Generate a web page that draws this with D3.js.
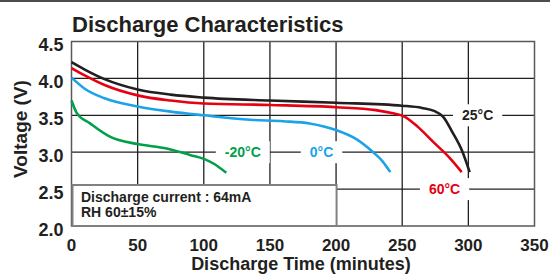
<!DOCTYPE html>
<html>
<head>
<meta charset="utf-8">
<script src="https://cdn.jsdelivr.net/npm/d3@7"></script>
<style>
  body { margin: 0; background: #fff; }
  text { font-family: "Liberation Sans", Arial, sans-serif; font-weight: bold; }
</style>
</head>
<body>
<div id="chart"></div>
<script>
// axis ticks
const timeTicks = [0, 50, 100, 150, 200, 250, 300, 350]
const voltTicks = [2.0, 2.5, 3.0, 3.5, 4.0, 4.5]

// discharge curves (minutes, volts)
const time25 = [0, 10, 25, 50, 75, 100, 150, 200, 250, 265, 274, 281, 288, 295, 301]
const volt25 = [4.22, 4.12, 3.99, 3.85, 3.78, 3.74, 3.70, 3.67, 3.63, 3.60, 3.56, 3.48, 3.27, 3.03, 2.73]

const time60 = [0, 10, 25, 50, 75, 100, 150, 200, 230, 242, 252, 262, 274, 286, 295]
const volt60 = [4.14, 4.04, 3.91, 3.77, 3.70, 3.66, 3.64, 3.61, 3.57, 3.53, 3.48, 3.34, 3.13, 2.92, 2.73]

const time0 = [0, 10, 25, 50, 75, 100, 135, 160, 180, 200, 215, 228, 235, 241]
const volt0 = [4.01, 3.86, 3.73, 3.62, 3.55, 3.50, 3.44, 3.42, 3.39, 3.30, 3.18, 3.00, 2.88, 2.73]

const timeM20 = [0, 4, 14, 29, 50, 72, 90, 100, 108, 117]
const voltM20 = [3.70, 3.53, 3.39, 3.21, 3.11, 3.05, 2.96, 2.91, 2.84, 2.72]

const seriesNames = ["25°C", "60°C", "0°C", "-20°C"]
const seriesColors = ["#231f20", "#e60012", "#1aa3e8", "#00a04a"]
// where each curve label sits (minutes, volts)
const labelTime = [307, 282, 189, 129.5]
const labelVolt = [3.5, 2.5, 3.0, 3.0]

const noteLines = ["Discharge current : 64mA", "RH 60±15%"]

function drawChart() {
    const width = 550
    const height = 276
    const svg = d3.select("#chart").append("svg")
                  .attr("width", width)
                  .attr("height", height)

    svg.append("rect").attr("width", width).attr("height", height).attr("fill", "#fff")
    // frame line across the top
    svg.append("line")
       .attr("x1", 0).attr("x2", width).attr("y1", 1).attr("y2", 1)
       .attr("stroke", "#4d4d4d").attr("stroke-width", 2)

    // scales
    const xScale = d3.scaleLinear().domain([0, 350]).range([71.5, 534.5])
    const yScale = d3.scaleLinear().domain([2, 4.5]).range([226, 41.5])

    // grid
    const grid = svg.append("g")
    grid.selectAll(".vgrid")
        .data(timeTicks.slice(1, -1))
        .join("line")
        .attr("x1", d => xScale(d)).attr("x2", d => xScale(d))
        .attr("y1", yScale(4.5)).attr("y2", yScale(2))
        .attr("stroke", "#231f20").attr("stroke-width", 1.3)
    grid.selectAll(".hgrid")
        .data(voltTicks.slice(1, -1))
        .join("line")
        .attr("x1", xScale(0)).attr("x2", xScale(350))
        .attr("y1", d => yScale(d)).attr("y2", d => yScale(d))
        .attr("stroke", "#231f20").attr("stroke-width", 1.3)

    // plot border
    svg.append("rect")
       .attr("x", xScale(0)).attr("y", yScale(4.5))
       .attr("width", xScale(350) - xScale(0))
       .attr("height", yScale(2) - yScale(4.5))
       .attr("fill", "none")
       .attr("stroke", "#58595b").attr("stroke-width", 1.5)

    // note box in the lower left
    svg.append("rect")
       .attr("x", xScale(0) + 1).attr("y", 185)
       .attr("width", xScale(200) - xScale(0) - 0.5)
       .attr("height", yScale(2) - 185)
       .attr("fill", "#fff")
       .attr("stroke", "#808080").attr("stroke-width", 2)
    svg.selectAll(".note")
       .data(noteLines)
       .join("text")
       .attr("x", 81)
       .attr("y", (d, i) => 201.5 + i * 15.5)
       .attr("font-size", "14px")
       .attr("fill", "#231f20")
       .text(d => d)

    // curves
    const curves = [
        d3.zip(time25, volt25),
        d3.zip(time60, volt60),
        d3.zip(time0, volt0),
        d3.zip(timeM20, voltM20)
    ]
    const lineGenerator = d3.line()
                            .x(d => xScale(d[0]))
                            .y(d => yScale(d[1]))
                            .curve(d3.curveMonotoneX)
    svg.selectAll(".curve")
       .data(curves)
       .join("path")
       .attr("d", d => lineGenerator(d))
       .attr("fill", "none")
       .attr("stroke", (d, i) => seriesColors[i])
       .attr("stroke-width", 2.6)

    // curve labels with white backing over the grid
    seriesNames.forEach((name, i) => {
        const cx = xScale(labelTime[i])
        const cy = yScale(labelVolt[i])
        const g = svg.append("g")
        const bg = g.append("rect").attr("fill", "#fff")
        const t = g.append("text")
                   .attr("x", cx).attr("y", cy + 5)
                   .attr("text-anchor", "middle")
                   .attr("font-size", "14px")
                   .attr("fill", seriesColors[i])
                   .text(name)
        const bb = t.node().getBBox()
        bg.attr("x", bb.x - 9).attr("y", cy - 11)
          .attr("width", bb.width + 18).attr("height", 22)
    })

    // axis tick labels
    svg.selectAll(".xlab")
       .data(timeTicks)
       .join("text")
       .attr("x", d => xScale(d))
       .attr("y", 250.5)
       .attr("text-anchor", "middle")
       .attr("font-size", "17px")
       .attr("fill", "#231f20")
       .text(d => d)
    svg.selectAll(".ylab")
       .data(voltTicks)
       .join("text")
       .attr("x", 63.5)
       .attr("y", d => yScale(d) + 9.5)
       .attr("text-anchor", "end")
       .attr("font-size", "18px")
       .attr("fill", "#231f20")
       .text(d => d.toFixed(1))

    // titles
    svg.append("text")
       .attr("x", 72).attr("y", 32)
       .attr("font-size", "22px")
       .attr("fill", "#231f20")
       .text("Discharge Characteristics")
    svg.append("text")
       .attr("x", 301).attr("y", 270)
       .attr("text-anchor", "middle")
       .attr("font-size", "18px")
       .attr("fill", "#231f20")
       .text("Discharge Time (minutes)")
    svg.append("text")
       .attr("transform", "translate(27, 129) rotate(-90)")
       .attr("text-anchor", "middle")
       .attr("font-size", "19px")
       .attr("fill", "#231f20")
       .text("Voltage (V)")
}

drawChart()
</script>
</body>
</html>
